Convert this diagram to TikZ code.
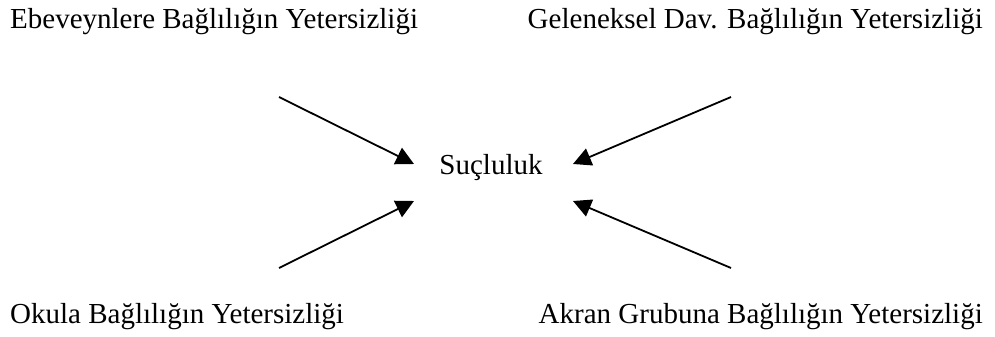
\documentclass[tikz,border=0pt]{standalone}
\usepackage{fontspec}
\setmainfont{Liberation Serif}
\usetikzlibrary{arrows.meta}
\begin{document}
\begin{tikzpicture}[x=1pt,y=-1pt,
  lbl/.style={font=\fontsize{29}{34}\selectfont, inner sep=0pt},
  conn/.style={line width=1.8pt, -{Triangle[length=18pt,width=18pt]}}]
\useasboundingbox (0,0) rectangle (995,337);
\node[lbl, anchor=base west] (a) at (10,29) {Ebeveynlere Bağlılığın Yetersizliği};
\node[lbl, anchor=base east] (b) at (983,29) {Geleneksel Dav. Bağlılığın Yetersizliği};
\node[lbl, anchor=base west] (c) at (10,323) {Okula Bağlılığın Yetersizliği};
\node[lbl, anchor=base east] (d) at (983,323) {Akran Grubuna Bağlılığın Yetersizliği};
\node[lbl, anchor=base] (s) at (491,174) {Suçluluk};
\coordinate (p1) at (279,97);
\coordinate (q1) at (414,164);
\coordinate (p2) at (731,97);
\coordinate (q2) at (573,164);
\coordinate (p3) at (279,268);
\coordinate (q3) at (414,201);
\coordinate (p4) at (731,268);
\coordinate (q4) at (573,201);
\draw[conn] (p1) -- (q1);
\draw[conn] (p2) -- (q2);
\draw[conn] (p3) -- (q3);
\draw[conn] (p4) -- (q4);
\end{tikzpicture}
\end{document}
